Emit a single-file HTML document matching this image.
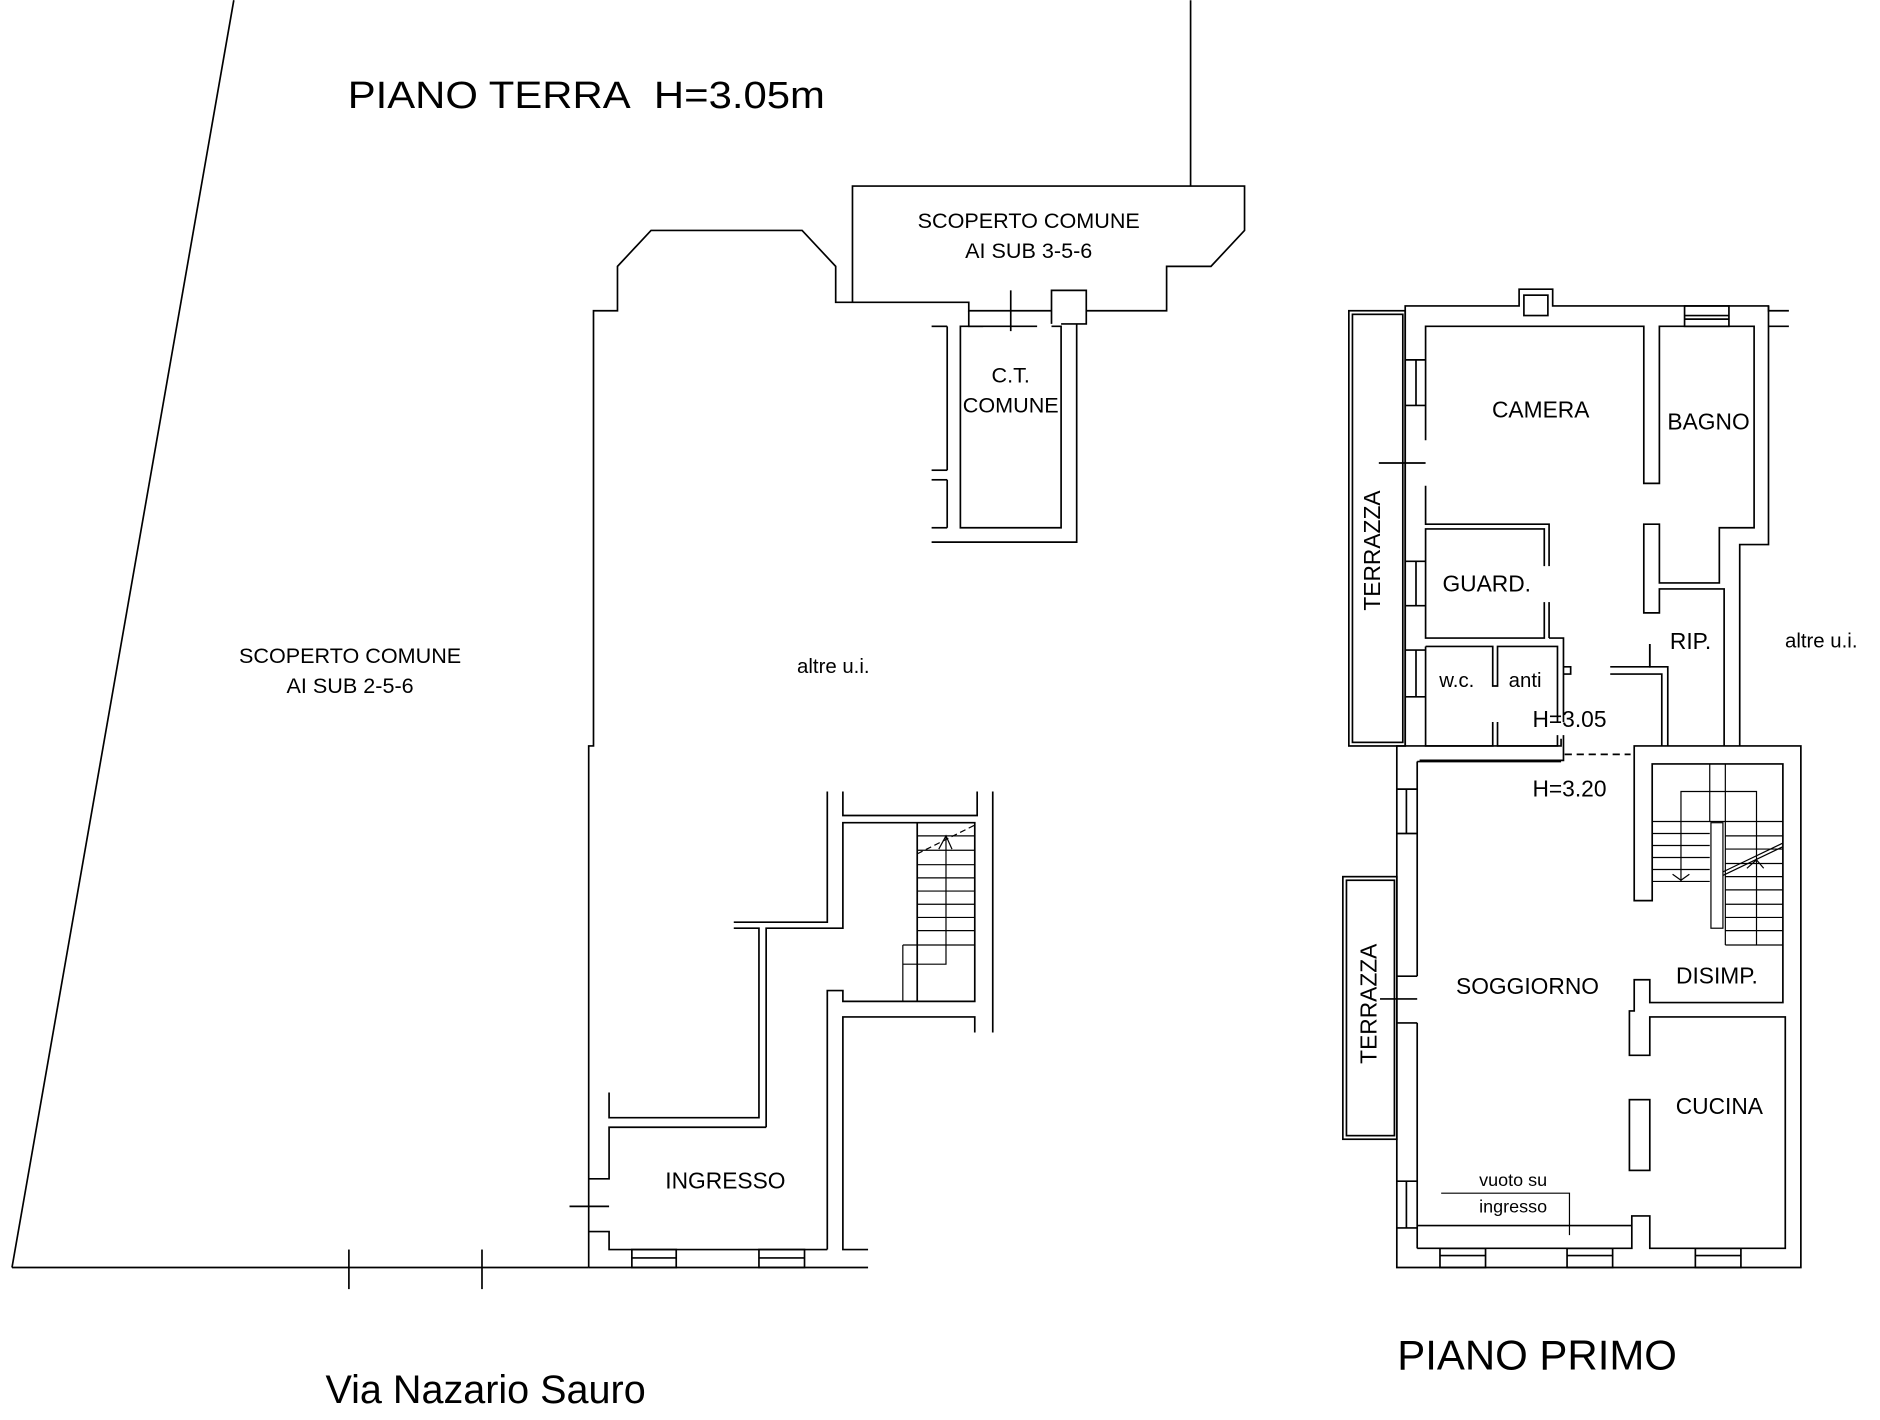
<!DOCTYPE html>
<html><head><meta charset="utf-8"><style>
html,body{margin:0;padding:0;background:#fff}
svg{display:block}
text{font-family:"Liberation Sans",sans-serif;fill:#000}
</style></head><body>
<svg width="1880" height="1420" viewBox="0 0 1568 1184" xmlns="http://www.w3.org/2000/svg">
<g fill="none" stroke="#000" stroke-width="1.4">
<line x1="195" y1="0" x2="10" y2="1057"/>
<line x1="10" y1="1057" x2="491" y2="1057"/>
<line x1="291" y1="1042" x2="291" y2="1075"/>
<line x1="402" y1="1042" x2="402" y2="1075"/>
<line x1="993" y1="0" x2="993" y2="155"/>
<polyline points="711,252 711,155 1038,155 1038,192 1010,222 973,222 973,259 906,259"/>
<polyline points="711,252 808,252 808,259 877,259"/>
<polyline points="877,270 877,242 906,242 906,270 885,270"/>
<line x1="843" y1="242" x2="843" y2="276"/>
<polyline points="808,259 808,272 820,272"/>
<polyline points="865,272 801,272 801,440 885,440 885,272 877,272"/>
<polyline points="777,452 898,452 898,270"/>
<line x1="790" y1="272" x2="790" y2="392"/>
<line x1="790" y1="400" x2="790" y2="440"/>
<line x1="777" y1="272" x2="790" y2="272"/>
<line x1="777" y1="392" x2="790" y2="392"/>
<line x1="777" y1="400" x2="790" y2="400"/>
<line x1="777" y1="440" x2="790" y2="440"/>
<polyline points="711,252 697,252 697,222 669,192 543,192 515,222 515,259 495,259 495,622 491,622 491,1057"/>
<polyline points="690,660 690,769 612,769"/>
<polyline points="612,774 633,774 633,932 508,932 508,911"/>
<polyline points="703,660 703,680 815,680 815,660"/>
<line x1="828" y1="660" x2="828" y2="861"/>
<polyline points="639,940 639,774 703,774 703,686 813,686 813,835 703,835 703,826 690,826 690,1042"/>
<polyline points="724,1042 703,1042 703,848 813,848 813,861"/>
<line x1="765" y1="686" x2="765" y2="835"/>
<g stroke-width="1">
<line x1="765" y1="697" x2="813" y2="697"/>
<line x1="765" y1="709" x2="813" y2="709"/>
<line x1="765" y1="721" x2="813" y2="721"/>
<line x1="765" y1="732" x2="813" y2="732"/>
<line x1="765" y1="743" x2="813" y2="743"/>
<line x1="765" y1="754" x2="813" y2="754"/>
<line x1="765" y1="765" x2="813" y2="765"/>
<line x1="765" y1="776" x2="813" y2="776"/>
<line x1="753" y1="788" x2="813" y2="788"/>
<polyline points="789,697 789,804 753,804"/>
<line x1="753" y1="788" x2="753" y2="835"/>
<line x1="765" y1="712" x2="813" y2="688" stroke-dasharray="5,3"/>
<polyline points="783,708 789,697 794,708"/>
</g>
<polyline points="639,940 508,940 508,983 491,983"/>
<line x1="475" y1="1006" x2="508" y2="1006"/>
<polyline points="491,1027 508,1027 508,1042 690,1042"/>
<rect x="527" y="1042" width="37" height="15"/>
<line x1="527" y1="1049" x2="564" y2="1049"/>
<rect x="633" y="1042" width="38" height="15"/>
<line x1="633" y1="1049" x2="671" y2="1049"/>
<line x1="491" y1="1057" x2="724" y2="1057"/>

<rect x="1125" y="259" width="47" height="363"/>
<rect x="1128" y="262" width="42" height="357"/>
<polyline points="1172,622 1172,255 1267,255 1267,241 1295,241 1295,255 1475,255 1475,259 1492,259"/>
<rect x="1271" y="246" width="20" height="17"/>
<line x1="1475" y1="272" x2="1492" y2="272"/>
<rect x="1405" y="255" width="37" height="17"/>
<line x1="1405" y1="263" x2="1442" y2="263"/>
<line x1="1405" y1="266" x2="1442" y2="266"/>
<polyline points="1475,255 1475,454 1451,454 1451,622"/>
<polyline points="1189,367 1189,272 1371,272 1371,403 1384,403 1384,272 1463,272 1463,440 1434,440 1434,486 1384,486 1384,437 1371,437 1371,511 1384,511 1384,491 1438,491 1438,622"/>
<line x1="1172" y1="300" x2="1189" y2="300"/>
<line x1="1172" y1="338" x2="1189" y2="338"/>
<line x1="1181" y1="300" x2="1181" y2="338"/>
<line x1="1150" y1="386" x2="1189" y2="386"/>
<polyline points="1189,405 1189,437 1292,437 1292,472"/>
<polyline points="1288,472 1288,441 1189,441 1189,532 1288,532 1288,502"/>
<line x1="1292" y1="502" x2="1292" y2="532"/>
<polyline points="1292,532 1304,532 1304,602"/>
<polyline points="1304,556 1310,556 1310,562 1304,562"/>
<line x1="1172" y1="468" x2="1189" y2="468"/>
<line x1="1172" y1="505" x2="1189" y2="505"/>
<line x1="1181" y1="468" x2="1181" y2="505"/>
<line x1="1172" y1="542" x2="1189" y2="542"/>
<line x1="1172" y1="581" x2="1189" y2="581"/>
<line x1="1181" y1="542" x2="1181" y2="581"/>
<polyline points="1189,539 1189,622 1245,622 1245,602"/>
<polyline points="1189,539 1245,539 1245,572 1249,572 1249,539 1299,539 1299,602"/>
<polyline points="1249,602 1249,622 1299,622 1299,613"/>
<polyline points="1184,634 1304,634 1304,613"/>
<polyline points="1343,556 1376,556 1376,537"/>
<polyline points="1343,562 1386,562 1386,622"/>
<polyline points="1376,537 1376,556 1391,556 1391,622"/>
<line x1="1305" y1="629" x2="1360" y2="629" stroke-dasharray="6,4"/>

<polyline points="1302,616 1302,622 1165,622 1165,1057 1502,1057 1502,622 1363,622 1363,751 1378,751 1378,637 1487,637 1487,836 1376,836 1376,817 1363,817 1363,843 1359,843 1359,880 1376,880 1376,848 1489,848 1489,1041 1376,1041 1376,1014 1361,1014 1361,1041 1182,1041"/>
<line x1="1182" y1="635" x2="1302" y2="635"/>
<line x1="1182" y1="635" x2="1182" y2="814"/>
<line x1="1182" y1="853" x2="1182" y2="1041"/>
<line x1="1151" y1="833" x2="1182" y2="833"/>
<line x1="1182" y1="1022" x2="1361" y2="1022"/>
<line x1="1165" y1="658" x2="1182" y2="658"/>
<line x1="1165" y1="695" x2="1182" y2="695"/>
<line x1="1173" y1="658" x2="1173" y2="695"/>
<line x1="1165" y1="985" x2="1182" y2="985"/>
<line x1="1165" y1="1024" x2="1182" y2="1024"/>
<line x1="1173" y1="985" x2="1173" y2="1024"/>
<line x1="1165" y1="814" x2="1182" y2="814"/>
<line x1="1165" y1="853" x2="1182" y2="853"/>
<rect x="1359" y="917" width="17" height="59"/>
<rect x="1201" y="1041" width="38" height="16"/>
<line x1="1201" y1="1047" x2="1239" y2="1047"/>
<rect x="1307" y="1041" width="38" height="16"/>
<line x1="1307" y1="1047" x2="1345" y2="1047"/>
<rect x="1414" y="1041" width="38" height="16"/>
<line x1="1414" y1="1047" x2="1452" y2="1047"/>
<polyline points="1202,995 1309,995 1309,1030" stroke-width="1"/>
<rect x="1120" y="731" width="45" height="219"/>
<rect x="1123" y="734" width="40" height="213"/>
<g stroke-width="1">
<line x1="1426" y1="637" x2="1426" y2="685"/>
<line x1="1439" y1="637" x2="1439" y2="788"/>
<polyline points="1402,735 1402,660 1465,660 1465,788"/>
<line x1="1378" y1="685" x2="1487" y2="685"/>
<line x1="1378" y1="695" x2="1426" y2="695"/>
<line x1="1378" y1="705" x2="1426" y2="705"/>
<line x1="1378" y1="715" x2="1426" y2="715"/>
<line x1="1378" y1="725" x2="1426" y2="725"/>
<line x1="1378" y1="735" x2="1426" y2="735"/>
<line x1="1439" y1="697" x2="1487" y2="697"/>
<line x1="1439" y1="708" x2="1487" y2="708"/>
<line x1="1439" y1="720" x2="1487" y2="720"/>
<line x1="1439" y1="731" x2="1487" y2="731"/>
<line x1="1439" y1="742" x2="1487" y2="742"/>
<line x1="1439" y1="754" x2="1487" y2="754"/>
<line x1="1439" y1="765" x2="1487" y2="765"/>
<line x1="1439" y1="776" x2="1487" y2="776"/>
<line x1="1439" y1="788" x2="1487" y2="788"/>
<rect x="1427" y="686" width="10" height="88"/>
<line x1="1437" y1="727" x2="1487" y2="703"/>
<line x1="1437" y1="730" x2="1487" y2="706"/>
<polyline points="1395,729 1402,734 1409,729"/>
<polyline points="1457,724 1465,717 1471,724"/>
</g>
</g>
<g>
<text x="290" y="90" font-size="32" textLength="398" lengthAdjust="spacingAndGlyphs">PIANO TERRA&#160;&#160;H=3.05m</text>
<g font-size="18" text-anchor="middle">
<text x="858" y="190">SCOPERTO COMUNE</text>
<text x="858" y="215">AI SUB 3-5-6</text>
<text x="292" y="553">SCOPERTO COMUNE</text>
<text x="292" y="578">AI SUB 2-5-6</text>
<text x="843" y="319">C.T.</text>
<text x="843" y="344">COMUNE</text>
</g>
<g font-size="19" text-anchor="middle">
<text x="605" y="991">INGRESSO</text>
<text x="1285" y="348">CAMERA</text>
<text x="1425" y="358">BAGNO</text>
<text x="1240" y="493">GUARD.</text>
<text x="1410" y="541">RIP.</text>
<text x="1309" y="606">H=3.05</text>
<text x="1309" y="664">H=3.20</text>
<text x="1274" y="829">SOGGIORNO</text>
<text x="1432" y="820">DISIMP.</text>
<text x="1434" y="929">CUCINA</text>
</g>
<g font-size="17" text-anchor="middle">
<text x="695" y="561">altre u.i.</text>
<text x="1519" y="540">altre u.i.</text>
<text x="1215" y="573">w.c.</text>
<text x="1272" y="573">anti</text>
</g>
<g font-size="15" text-anchor="middle" fill="#333">
<text x="1262" y="989">vuoto su</text>
<text x="1262" y="1011">ingresso</text>
</g>
<text font-size="19" text-anchor="middle" transform="translate(1151,459) rotate(-90)">TERRAZZA</text>
<text font-size="19" text-anchor="middle" transform="translate(1148,837) rotate(-90)">TERRAZZA</text>
<text x="1282" y="1142" font-size="35" text-anchor="middle">PIANO PRIMO</text>
<text x="405" y="1170" font-size="33" text-anchor="middle">Via Nazario Sauro</text>
</g>
</svg>
</body></html>
